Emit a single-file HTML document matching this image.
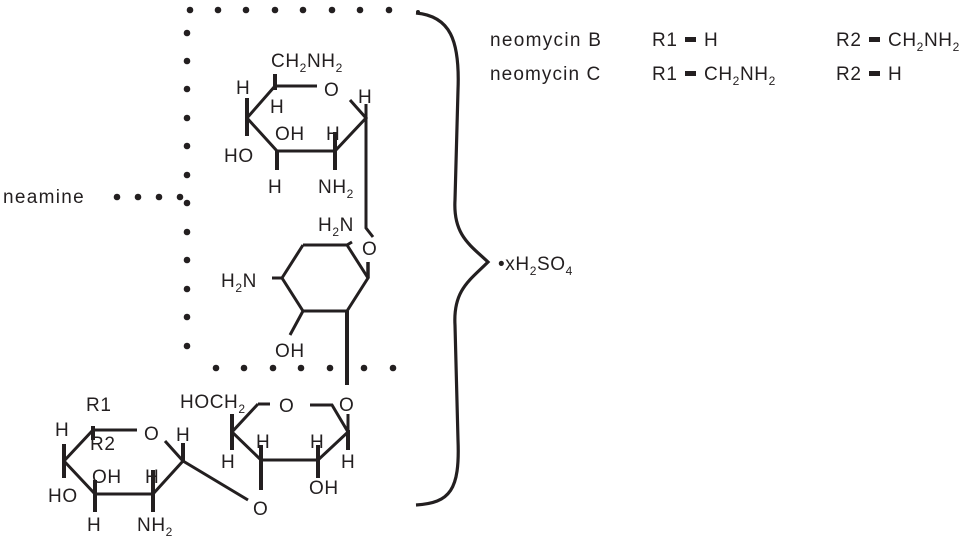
<!DOCTYPE html>
<html><head><meta charset="utf-8"><style>
html,body{margin:0;padding:0;background:#fff;}
svg text{font-family:"Liberation Sans",sans-serif;fill:#231f20;}
</style></head><body>
<svg width="971" height="543" viewBox="0 0 971 543" xmlns="http://www.w3.org/2000/svg">
<g fill="#231f20">
<circle cx="190" cy="10" r="3.3"/><circle cx="218" cy="10" r="3.3"/><circle cx="246" cy="10" r="3.3"/><circle cx="275" cy="10" r="3.3"/><circle cx="303" cy="10" r="3.3"/><circle cx="332" cy="10" r="3.3"/><circle cx="360" cy="10" r="3.3"/><circle cx="389" cy="10" r="3.3"/><circle cx="418" cy="12" r="2"/>
<circle cx="187" cy="33" r="3.3"/><circle cx="187" cy="61" r="3.3"/><circle cx="187" cy="89" r="3.3"/><circle cx="187" cy="118" r="3.3"/><circle cx="187" cy="146" r="3.3"/><circle cx="187" cy="175" r="3.3"/><circle cx="187" cy="203" r="3.3"/><circle cx="187" cy="232" r="3.3"/><circle cx="187" cy="260" r="3.3"/><circle cx="187" cy="289" r="3.3"/><circle cx="187" cy="317" r="3.3"/><circle cx="187" cy="346" r="3.3"/>
<circle cx="216" cy="368" r="3.3"/><circle cx="244" cy="368" r="3.3"/><circle cx="273" cy="368" r="3.3"/><circle cx="301" cy="368" r="3.3"/><circle cx="330" cy="368" r="3.3"/><circle cx="364" cy="368" r="3.3"/><circle cx="393" cy="368" r="3.3"/>
<circle cx="117" cy="197" r="3.3"/><circle cx="138" cy="197" r="3.3"/><circle cx="159" cy="197" r="3.3"/><circle cx="180" cy="197" r="3.3"/>
</g>
<g stroke="#231f20" stroke-width="3" fill="none" stroke-linecap="butt">
<path d="M317,86 L275,86 L247,118 L277,151 L335,151 L366,118 L350,100"/>
<path d="M275,74 V90 M247,98 V136 M277,151 V170 M335,132 V170" stroke-width="4"/>
<path d="M366,104 V228 L373,237"/>
<path d="M303,245 L347,245 M347,245 L352,242 M347,245 L368,278 L347,311 L303,311 L282,278 L303,245 M282,278 H272 M303,311 L290,335"/>
<path d="M368,262 V278" stroke-width="3.5"/>
<path d="M347,311 V385" stroke-width="4"/>
<path d="M258,404 L232,432 L261,460 L318,460 L348,432 L332,405 L310,405 M258,404 L270,404 M348,432 L348,414"/>
<path d="M232,414 V450 M261,445 V490 M318,445 V478 M348,430 V450" stroke-width="4"/>
<path d="M137,430 L93,430 L64,461 L95,494 L153,494 L183,461 L165,441 M183,461 L248,500"/>
<path d="M93,426 V440 M64,444 V478 M95,480 V512 M153,470 V512 M183,443 V461" stroke-width="4"/>
<path d="M416,13 C450,16 460,40 458,90 L455,200 C453,235 470,245 488,262 C470,280 453,290 455,325 L458,440 C460,490 450,503 416,505" stroke-width="3.2"/>
</g>
<g font-size="19" letter-spacing="0.6">
<text x="3" y="203" letter-spacing="1.3">neamine</text>
<text x="271" y="67">CH<tspan font-size="12" dy="5">2</tspan><tspan dy="-5">NH</tspan><tspan font-size="12" dy="5">2</tspan></text>
<text x="236" y="94">H</text><text x="270" y="113">H</text><text x="324" y="96">O</text><text x="358" y="103">H</text>
<text x="275" y="140">OH</text><text x="326" y="140">H</text><text x="224" y="162">HO</text>
<text x="268" y="193">H</text><text x="318" y="193">NH<tspan font-size="12" dy="5">2</tspan></text>
<text x="318" y="231">H<tspan font-size="12" dy="5">2</tspan><tspan dy="-5">N</tspan></text><text x="362" y="255">O</text>
<text x="221" y="287">H<tspan font-size="12" dy="5">2</tspan><tspan dy="-5">N</tspan></text>
<text x="275" y="357">OH</text>
<text x="180" y="408">HOCH<tspan font-size="12" dy="5">2</tspan></text><text x="279" y="412">O</text><text x="339" y="411">O</text>
<text x="256" y="448">H</text><text x="310" y="448">H</text><text x="221" y="468">H</text><text x="341" y="468">H</text>
<text x="309" y="494">OH</text><text x="253" y="515">O</text>
<text x="86" y="411">R1</text><text x="55" y="436">H</text><text x="90" y="450">R2</text><text x="144" y="440">O</text><text x="176" y="441">H</text>
<text x="92" y="483">OH</text><text x="145" y="483">H</text><text x="48" y="502">HO</text>
<text x="87" y="531">H</text><text x="137" y="531">NH<tspan font-size="12" dy="5">2</tspan></text>
<text x="498" y="270">•xH<tspan font-size="12" dy="5">2</tspan><tspan dy="-5">SO</tspan><tspan font-size="12" dy="5">4</tspan></text>
<text x="490" y="46" letter-spacing="1.3">neomycin B</text><text x="490" y="80" letter-spacing="1.1">neomycin C</text>
<text x="652" y="46">R1</text><text x="704" y="46">H</text>
<text x="652" y="80">R1</text><text x="704" y="80">CH<tspan font-size="12" dy="5">2</tspan><tspan dy="-5">NH</tspan><tspan font-size="12" dy="5">2</tspan></text>
<text x="836" y="46">R2</text><text x="888" y="46">CH<tspan font-size="12" dy="5">2</tspan><tspan dy="-5">NH</tspan><tspan font-size="12" dy="5">2</tspan></text>
<text x="836" y="80">R2</text><text x="888" y="80">H</text>
</g>
<g fill="#231f20">
<rect x="685" y="37" width="11" height="5"/><rect x="685" y="71" width="11" height="5"/>
<rect x="869" y="37" width="11" height="5"/><rect x="869" y="71" width="11" height="5"/>
</g>
</svg>
</body></html>
